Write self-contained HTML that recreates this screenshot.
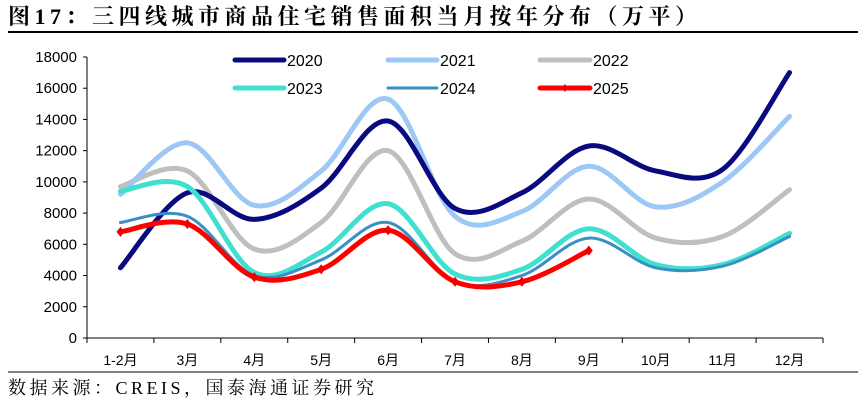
<!DOCTYPE html><html><head><meta charset="utf-8"><style>
body{margin:0;background:#fff;width:864px;height:402px;overflow:hidden}
</style></head><body>
<svg id="s" width="864" height="402" xmlns="http://www.w3.org/2000/svg" font-family="Liberation Sans, sans-serif">
<text x="8" y="24" font-family="Liberation Serif, Noto Serif CJK SC, serif" font-weight="bold" font-size="22" letter-spacing="4.5" fill="#000">图17：三四线城市商品住宅销售面积当月按年分布（万平）</text>
<line x1="8" y1="32" x2="858" y2="32" stroke="#000" stroke-width="2"/>
<g id="ax" font-size="15" fill="#000"></g>
<g id="lines"></g>
<g font-size="16" fill="#000">
<line x1="235" y1="60" x2="284" y2="60" stroke="#0a0a80" stroke-width="5" stroke-linecap="round"/><text x="287" y="66">2020</text>
<line x1="388" y1="60" x2="437" y2="60" stroke="#9dc8f5" stroke-width="5" stroke-linecap="round"/><text x="440" y="66">2021</text>
<line x1="540" y1="60" x2="590" y2="60" stroke="#bfbfbf" stroke-width="5" stroke-linecap="round"/><text x="593" y="66">2022</text>
<line x1="235" y1="88" x2="284" y2="88" stroke="#40e0d0" stroke-width="5" stroke-linecap="round"/><text x="287" y="94">2023</text>
<line x1="388" y1="88" x2="437" y2="88" stroke="#3a8fc4" stroke-width="3" stroke-linecap="round"/><text x="440" y="94">2024</text>
<line x1="540" y1="88" x2="590" y2="88" stroke="#ff0000" stroke-width="5" stroke-linecap="round"/><path d="M565 84 L568 88 L565 92 L562 88Z" fill="#e00"/><text x="593" y="94">2025</text>
</g>
<line x1="8" y1="372" x2="858" y2="372" stroke="#000" stroke-width="1"/>
<text x="8" y="394" font-family="Liberation Serif, Noto Serif CJK SC, serif" font-size="18" letter-spacing="3.5" fill="#000">数据来源：CREIS，国泰海通证券研究</text>
</svg>
<script>
var NS="http://www.w3.org/2000/svg";
function el(t,a,p,txt){var e=document.createElementNS(NS,t);for(var k in a)e.setAttribute(k,a[k]);if(txt)e.textContent=txt;p.appendChild(e);return e;}
var ax=document.getElementById('ax'),L=document.getElementById('lines');
var x0=87,x1=823,y0=338,sc=281/18000,w=(x1-x0)/11;
el('line',{x1:x0,y1:57,x2:x0,y2:y0,stroke:'#000'},ax);
el('line',{x1:x0,y1:y0,x2:x1,y2:y0,stroke:'#000'},ax);
for(var v=0;v<=18000;v+=2000){var y=y0-v*sc;el('line',{x1:x0-4,y1:y,x2:x0,y2:y,stroke:'#000'},ax);el('text',{x:x0-10,y:y+5,'text-anchor':'end'},ax,String(v));}
var labs=['1-2月','3月','4月','5月','6月','7月','8月','9月','10月','11月','12月'];
for(var i=0;i<=11;i++){var x=x0+i*w;el('line',{x1:x,y1:y0,x2:x,y2:y0+5,stroke:'#000'},ax);}
labs.forEach(function(l,i){el('text',{x:x0+w/2+i*w,y:y0+27,'text-anchor':'middle','font-family':'Liberation Sans, Noto Sans CJK SC, sans-serif','font-size':'14'},ax,l);});
var D=[
['#bfbfbf',5,[9700,10700,5700,7400,12000,5400,6200,8900,6400,6500,9500]],
['#9dc8f5',5,[9200,12500,8500,10700,15300,7800,8100,11000,8400,10000,14200]],
['#0a0a80',5,[4500,9300,7600,9600,13900,8300,9300,12300,10700,10800,17000]],
['#40e0d0',5,[9400,9700,4200,5500,8600,4100,4400,7000,4700,4700,6700]],
['#3a8fc4',3,[7400,7800,4000,5000,7400,3600,4000,6400,4500,4600,6500]],
['#ff0000',5,[6800,7300,3900,4400,6900,3600,3600,5600]]];
D.forEach(function(d,k){var p=d[2].map(function(v,i){return [x0+w/2+i*w,y0-v*sc];});
var s='M'+p[0][0]+' '+p[0][1];
for(var i=0;i<p.length-1;i++){var a=p[Math.max(0,i-1)],b=p[i],c=p[i+1],e=p[Math.min(p.length-1,i+2)];
s+=' C'+(b[0]+(c[0]-a[0])/6)+' '+(b[1]+(c[1]-a[1])/6)+' '+(c[0]-(e[0]-b[0])/6)+' '+(c[1]-(e[1]-b[1])/6)+' '+c[0]+' '+c[1];}
el('path',{d:s,fill:'none',stroke:d[0],'stroke-width':d[1],'stroke-linecap':'round'},L);
if(k==5)p.forEach(function(q){el('path',{d:'M'+q[0]+' '+(q[1]-5)+' L'+(q[0]+4)+' '+q[1]+' L'+q[0]+' '+(q[1]+5)+' L'+(q[0]-4)+' '+q[1]+'Z',fill:'#e00'},L);});
});
</script>
</body></html>
